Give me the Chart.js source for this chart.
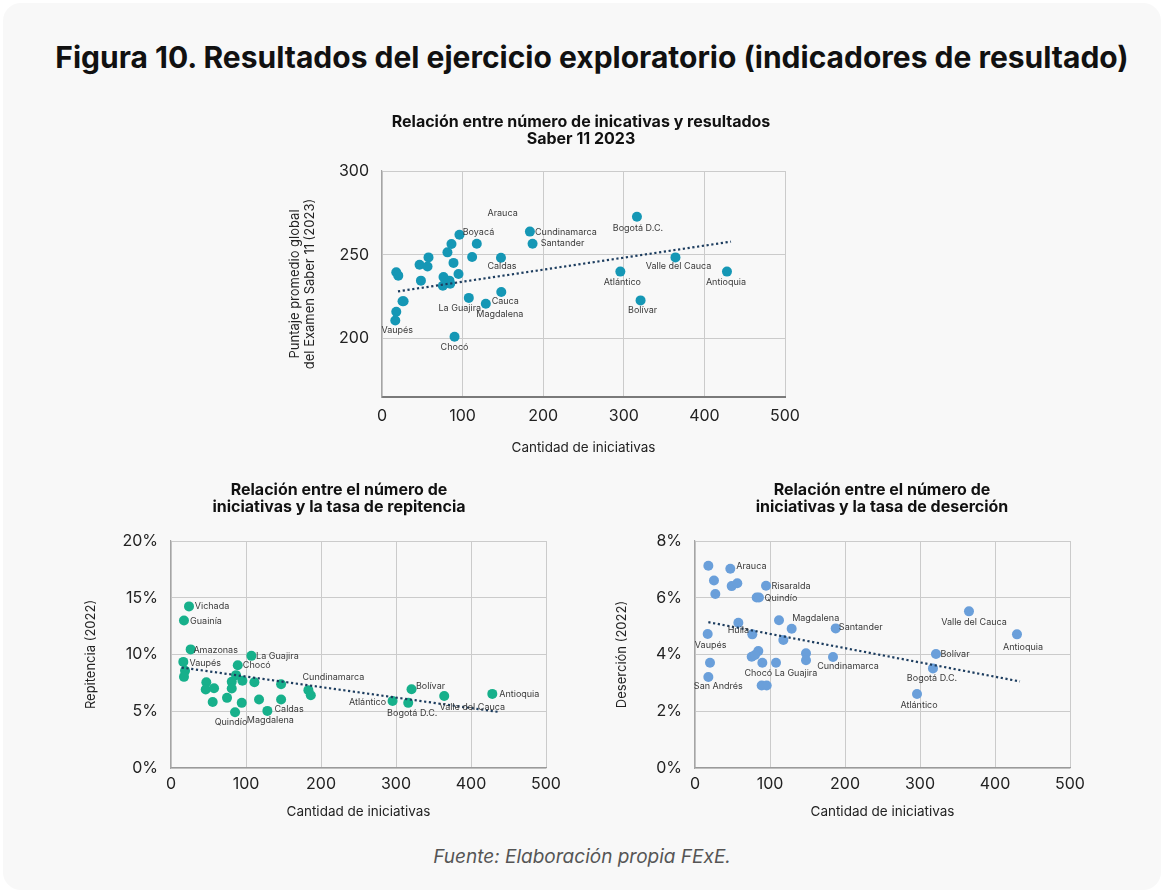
<!DOCTYPE html>
<html lang="es">
<head>
<meta charset="utf-8">
<title>Figura 10</title>
<script src="https://cdn.jsdelivr.net/npm/chart.js@4.4.1/dist/chart.umd.min.js"></script>
<style>
  html, body { margin: 0; padding: 0; background: #fff; overflow: hidden; }
  body { width: 1164px; height: 893px; position: relative; font-family: Inter, sans-serif; }
  .card { position: absolute; left: 3px; top: 3px; width: 1158px; height: 887px; background: #f8f8f8; border-radius: 18px; }
  h1 { position: absolute; left: 10px; top: 37px; width: 1164px; margin: 0; text-align: center;
       font: 700 30px Inter, sans-serif; line-height: 40px; color: #111; }
  .box { position: absolute; }
  .src { position: absolute; left: 0; top: 845px; width: 1164px; text-align: center;
         font: italic 19px Inter, sans-serif; color: #555; }
</style>
</head>
<body>
<div class="card"></div>
<h1>Figura 10. Resultados del ejercicio exploratorio (indicadores de resultado)</h1>
<div class="box" style="left:270px;top:100px"><canvas id="chartSaber" width="545" height="370"></canvas></div>
<div class="box" style="left:60px;top:470px"><canvas id="chartRepitencia" width="520" height="370"></canvas></div>
<div class="box" style="left:580px;top:470px"><canvas id="chartDesercion" width="520" height="370"></canvas></div>
<div class="src">Fuente: Elaboración propia FExE.</div>

<script>
// --- Saber 11 (2023) vs cantidad de iniciativas
const saberX = [17.7, 20.2, 25.5, 26.8, 17.7, 16.5, 46.6, 57.7, 56.5, 48.3, 76.3, 75.5, 83.7, 84.6, 81.2, 86.2, 88.7,
  94.9, 96.1, 111.8, 117.6, 107.7, 90.0, 128.8, 148.0, 147.6, 183.5, 186.8, 316.3, 364.1, 295.7, 320.8, 428.0];
const saberY = [239.5, 237.5, 222.2, 222.2, 215.9, 210.7, 244.0, 248.4, 243.0, 234.5, 236.7, 231.5, 234.5, 232.7, 251.4, 256.4, 245.1,
  238.5, 261.9, 248.6, 256.5, 224.2, 201.0, 220.7, 227.7, 248.2, 263.8, 256.5, 272.7, 248.4, 239.9, 222.7, 239.9];
const saberNames = ['', '', '', '', '', 'Vaupés', 'Arauca', '', '', '', '', '', '', '', '', '', '',
  '', 'Boyacá', '', '', 'La Guajira', 'Chocó', 'Magdalena', 'Cauca', 'Caldas', 'Cundinamarca', 'Santander',
  'Bogotá D.C.', 'Valle del Cauca', 'Atlántico', 'Bolívar', 'Antioquia'];
const saberTrendX = [19.8, 433];
const saberTrendY = [228.1, 257.8];
const saberTicks = [200, 250, 300];

// --- Repitencia (2022)
const repX = [24.0, 17.3, 26.2, 16.4, 18.7, 17.3, 89.0, 86.7, 95.2, 81.0, 81.0, 47.1, 46.3, 57.4, 55.6, 74.7, 94.3,
  85.4, 111.2, 107.2, 117.4, 128.5, 146.8, 146.8, 183.2, 186.4, 295.4, 316.3, 320.7, 364.3, 428.4];
const repY = [14.24, 13.0, 10.45, 9.35, 8.56, 8.03, 9.06, 8.18, 7.68, 7.59, 7.0, 7.56, 6.92, 7.03, 5.82, 6.18, 5.74,
  4.91, 7.56, 9.88, 6.03, 5.03, 7.38, 6.03, 6.86, 6.41, 5.91, 5.74, 6.94, 6.35, 6.53];
const repNames = ['Vichada', 'Guainía', 'Amazonas', 'Vaupés', '', '', 'Chocó', '', '', '', '', '', '', '', '', '', '',
  'Quindío', '', 'La Guajira', '', 'Magdalena', '', 'Caldas', 'Cundinamarca', '', 'Atlántico', 'Bogotá D.C.',
  'Bolívar', 'Valle del Cauca', 'Antioquia'];
const repTrendX = [14.2, 436.9];
const repTrendY = [8.85, 4.94];

// --- Deserción (2022)
const desX = [17.8, 47.1, 25.3, 48.9, 56.4, 27.1, 94.7, 82.2, 85.3, 57.8, 76.4, 16.9, 112.0, 128.9, 117.8, 84.4, 75.6,
  80.0, 89.8, 108.0, 148.0, 148.0, 184.0, 20.0, 17.8, 88.9, 95.6, 187.6, 365.3, 429.3, 321.3, 317.3, 296.0];
const desY = [7.13, 7.02, 6.61, 6.41, 6.51, 6.13, 6.42, 6.01, 6.01, 5.12, 4.71, 4.72, 5.21, 4.91, 4.51, 4.12, 3.92,
  3.98, 3.71, 3.71, 4.04, 3.80, 3.91, 3.71, 3.21, 2.91, 2.91, 4.92, 5.52, 4.71, 4.02, 3.51, 2.61];
const desNames = ['', 'Arauca', '', '', '', '', 'Risaralda', '', 'Quindío', 'Huila', '', 'Vaupés', '', 'Magdalena', '', '', '',
  '', 'Chocó', 'La Guajira', '', '', 'Cundinamarca', '', 'San Andrés', '', '', 'Santander',
  'Valle del Cauca', 'Antioquia', 'Bolívar', 'Bogotá D.C.', 'Atlántico'];
const desTrendX = [17.8, 433.3];
const desTrendY = [5.14, 3.05];

const xTicks = [0, 100, 200, 300, 400, 500];

(function () {
  const FONT = 'Inter, sans-serif';

  function toPoints(xs, ys) {
    return xs.map((x, i) => ({ x, y: ys[i] }));
  }

  // text centre offsets (px) from the marker, per label
  const nudgeSaber = {
    'Arauca': [83, -51], 'Boyacá': [19, -2], 'Cundinamarca': [36, 1], 'Santander': [30, -1],
    'Bogotá D.C.': [1, 12], 'Valle del Cauca': [3, 9], 'Atlántico': [2, 11], 'Antioquia': [-1, 11],
    'Bolívar': [2, 10], 'Caldas': [1, 9], 'Cauca': [4, 9], 'Magdalena': [14, 11], 'La Guajira': [-9, 10],
    'Chocó': [0, 11], 'Vaupés': [2, 10]
  };
  const nudgeRep = {
    'Vichada': [23, 0], 'Guainía': [22, 1], 'Amazonas': [25, 1], 'Vaupés': [22, 1], 'La Guajira': [26, 0],
    'Chocó': [19, 0], 'Quindío': [-4, 10], 'Magdalena': [3, 9], 'Caldas': [8, 10], 'Cundinamarca': [25, -13],
    'Atlántico': [-25, 1], 'Bogotá D.C.': [4, 10], 'Bolívar': [19, -3], 'Valle del Cauca': [28, 11], 'Antioquia': [27, 0]
  };
  const nudgeDes = {
    'Arauca': [21, -3], 'Risaralda': [25, 0], 'Quindío': [22, 1], 'Huila': [0, 8], 'Vaupés': [3, 11],
    'Magdalena': [24, -10], 'Santander': [25, -1], 'Chocó': [-4, 11], 'La Guajira': [20, 11],
    'Cundinamarca': [15, 9], 'San Andrés': [10, 9], 'Valle del Cauca': [5, 11], 'Antioquia': [6, 13],
    'Bolívar': [19, 0], 'Bogotá D.C.': [-1, 10], 'Atlántico': [2, 11]
  };

  const pointLabels = {
    id: 'pointLabels',
    afterDatasetsDraw(chart, args, opts) {
      const meta = chart.getDatasetMeta(1);
      const ctx = chart.ctx;
      ctx.save();
      ctx.font = '9px ' + FONT;
      ctx.fillStyle = '#3a3a3a';
      ctx.textAlign = 'center';
      ctx.textBaseline = 'middle';
      meta.data.forEach((el, i) => {
        const name = opts.names[i];
        if (!name) return;
        const n = opts.nudge[name] || [0, 11];
        ctx.fillText(name, el.x + n[0], el.y + n[1]);
      });
      ctx.restore();
    }
  };

  const headTitle = {
    id: 'headTitle',
    afterDraw(chart, args, opts) {
      const ctx = chart.ctx;
      ctx.save();
      ctx.font = '700 16px ' + FONT;
      ctx.fillStyle = '#111';
      ctx.textAlign = 'center';
      ctx.textBaseline = 'middle';
      opts.lines.forEach((t, i) => ctx.fillText(t, opts.x, opts.y + i * 17));
      ctx.restore();
    }
  };

  function makeChart(id, c) {
    const canvas = document.getElementById(id);
    return new Chart(canvas.getContext('2d'), {
      type: 'scatter',
      data: {
        datasets: [
          {
            type: 'line',
            data: toPoints(c.trendX, c.trendY),
            borderColor: '#1d3d5f',
            borderWidth: 2.2,
            borderDash: [2.2, 2.6],
            pointRadius: 0,
            fill: false
          },
          {
            data: toPoints(c.xs, c.ys),
            backgroundColor: c.color,
            borderWidth: 0,
            pointRadius: 5,
            pointHoverRadius: 5
          }
        ]
      },
      options: {
        responsive: false,
        animation: false,
        layout: { padding: { top: 71, right: c.padRight, left: 0, bottom: 0 } },
        plugins: {
          legend: { display: false },
          tooltip: { enabled: false },
          pointLabels: { names: c.names, nudge: c.nudge },
          headTitle: c.head
        },
        scales: {
          x: {
            type: 'linear', min: 0, max: 500,
            afterBuildTicks: s => { s.ticks = xTicks.map(v => ({ value: v })); },
            afterFit: s => { s.height = c.xHeight; s.paddingLeft = 0; s.paddingRight = 0; },
            ticks: { color: '#222', font: { family: FONT, size: 16 }, padding: c.xTickPad },
            grid: { color: '#cbcbcb', lineWidth: 1, drawTicks: false },
            border: { color: c.xBorder, width: c.xBorderWidth },
            title: {
              display: true, text: 'Cantidad de iniciativas', color: '#222',
              font: { family: FONT, size: 13.5 }, padding: { top: 0, bottom: c.xTitlePad }
            }
          },
          y: {
            type: 'linear', min: c.yMin, max: c.yMax,
            afterBuildTicks: s => { s.ticks = c.yTicks.map(v => ({ value: v })); },
            afterFit: s => { s.width = c.yWidth; s.paddingTop = 0; s.paddingBottom = 0; },
            ticks: { color: '#222', font: { family: FONT, size: 16 }, padding: 13, callback: c.fmt },
            grid: { color: '#cbcbcb', lineWidth: 1, drawTicks: false },
            border: { color: '#a5a5a5', width: 1.2 },
            title: {
              display: true, text: c.yTitle, color: '#222',
              font: { family: FONT, size: 13, lineHeight: 1.15 }, padding: { top: c.yTitlePad, bottom: 0 }
            }
          }
        }
      },
      plugins: [pointLabels, headTitle]
    });
  }

  window.addEventListener('DOMContentLoaded', () => {
    makeChart('chartSaber', {
      xs: saberX, ys: saberY, names: saberNames, nudge: nudgeSaber,
      trendX: saberTrendX, trendY: saberTrendY, color: '#1597b5',
      yMin: 165, yMax: 300, yTicks: saberTicks, fmt: v => v,
      yTitle: ['Puntaje promedio global', 'del Examen Saber 11 (2023)'], yTitlePad: 17.5,
      yWidth: 112, xHeight: 73, padRight: 30, xTickPad: 10, xTitlePad: 14,
      xBorder: '#7a7a7a', xBorderWidth: 2,
      head: { lines: ['Relación entre número de inicativas y resultados', 'Saber 11 2023'], x: 311, y: 22 }
    });

    makeChart('chartRepitencia', {
      xs: repX, ys: repY, names: repNames, nudge: nudgeRep,
      trendX: repTrendX, trendY: repTrendY, color: '#17b08b',
      yMin: 0, yMax: 20, yTicks: [0, 5, 10, 15, 20], fmt: v => v + '%',
      yTitle: 'Repitencia (2022)', yTitlePad: 24,
      yWidth: 111, xHeight: 72, padRight: 34, xTickPad: 7, xTitlePad: 20,
      xBorder: '#9a9a9a', xBorderWidth: 1.2,
      head: { lines: ['Relación entre el número de', 'iniciativas y la tasa de repitencia'], x: 279, y: 20 }
    });

    makeChart('chartDesercion', {
      xs: desX, ys: desY, names: desNames, nudge: nudgeDes,
      trendX: desTrendX, trendY: desTrendY, color: '#6a9fda',
      yMin: 0, yMax: 8, yTicks: [0, 2, 4, 6, 8], fmt: v => v + '%',
      yTitle: 'Deserción (2022)', yTitlePad: 35,
      yWidth: 115, xHeight: 72, padRight: 30, xTickPad: 7, xTitlePad: 20,
      xBorder: '#9a9a9a', xBorderWidth: 1.2,
      head: { lines: ['Relación entre el número de', 'iniciativas y la tasa de deserción'], x: 302, y: 20 }
    });
  });
})();
</script>
</body>
</html>
